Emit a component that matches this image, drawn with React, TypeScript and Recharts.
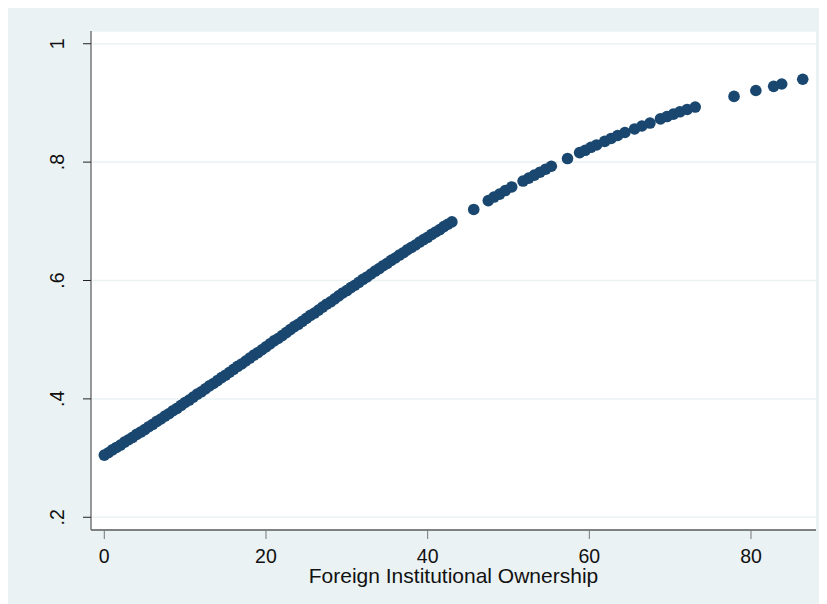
import { CartesianGrid, Scatter, ScatterChart, XAxis, YAxis } from "recharts";

// fitted probability against foreign institutional ownership
const denseOwnership = [
  0, 0.5, 1, 1.5, 2, 2.5, 3, 3.5, 4, 4.5, 5, 5.5, 6, 6.5, 7, 7.5, 8, 8.5, 9, 9.5,
  10, 10.5, 11, 11.5, 12, 12.5, 13, 13.5, 14, 14.5, 15, 15.5, 16, 16.5, 17, 17.5,
  18, 18.5, 19, 19.5, 20, 20.5, 21, 21.5, 22, 22.5, 23, 23.5, 24, 24.5, 25, 25.5,
  26, 26.5, 27, 27.5, 28, 28.5, 29, 29.5, 30, 30.5, 31, 31.5, 32, 32.5, 33, 33.5,
  34, 34.5, 35, 35.5, 36, 36.5, 37, 37.5, 38, 38.5, 39, 39.5, 40, 40.5, 41, 41.5,
  42, 42.5, 43,
];
const denseFitted = [
  0.305, 0.309, 0.314, 0.318, 0.322, 0.327, 0.331, 0.335, 0.34, 0.344, 0.348,
  0.353, 0.357, 0.362, 0.366, 0.371, 0.375, 0.38, 0.384, 0.389, 0.394, 0.398,
  0.403, 0.408, 0.412, 0.417, 0.422, 0.426, 0.431, 0.436, 0.44, 0.445, 0.45,
  0.455, 0.459, 0.464, 0.469, 0.474, 0.478, 0.483, 0.488, 0.493, 0.498, 0.502,
  0.507, 0.512, 0.517, 0.522, 0.526, 0.531, 0.536, 0.541, 0.545, 0.55, 0.555,
  0.56, 0.564, 0.569, 0.574, 0.579, 0.583, 0.588, 0.592, 0.597, 0.602, 0.606,
  0.611, 0.616, 0.62, 0.625, 0.629, 0.634, 0.638, 0.643, 0.647, 0.652, 0.656,
  0.66, 0.665, 0.669, 0.673, 0.678, 0.682, 0.686, 0.691, 0.695, 0.699,
];
const sparseOwnership = [
  45.7, 47.5, 48.2, 48.9, 49.6, 50.4, 51.8, 52.5, 53.2, 53.9, 54.6, 55.3, 57.3,
  58.8, 59.5, 60.2, 60.9, 61.9, 62.7, 63.5, 64.4, 65.6, 66.5, 67.5, 68.8, 69.6,
  70.4, 71.2, 72.1, 73.1, 77.9, 80.6, 82.8, 83.8, 86.4,
];
const sparseFitted = [
  0.72, 0.735, 0.741, 0.746, 0.752, 0.758, 0.768, 0.773, 0.778, 0.783, 0.788,
  0.793, 0.806, 0.816, 0.82, 0.825, 0.829, 0.835, 0.84, 0.845, 0.85, 0.856,
  0.861, 0.866, 0.873, 0.877, 0.881, 0.885, 0.889, 0.893, 0.911, 0.921, 0.928,
  0.932, 0.94,
];

const xTicks = [0, 20, 40, 60, 80];
const yTicks = [0.2, 0.4, 0.6, 0.8, 1];
const yTickLabels = [".2", ".4", ".6", ".8", "1"];

const points = [
  ...denseOwnership.map((x, i) => ({ x, y: denseFitted[i] })),
  ...sparseOwnership.map((x, i) => ({ x, y: sparseFitted[i] })),
];

const FONT = "'Liberation Sans', Arial, sans-serif";
const NAVY = "#1A476F";
const BLUISH = "#EAF2F3";

const Dot = (props: any) => <circle cx={props.cx} cy={props.cy} r={5.8} fill={NAVY} />;

const XTick = ({ x, y, payload }: any) => (
  <text x={x} y={y + 24} textAnchor="middle" fontSize={19.5} fill="#111" fontFamily={FONT}>
    {payload.value}
  </text>
);

const YTick = ({ x, y, payload }: any) => {
  const idx = yTicks.indexOf(payload.value);
  const lx = x - 19;
  return (
    <text
      x={lx}
      y={y}
      transform={`rotate(-90, ${lx}, ${y})`}
      textAnchor="middle"
      fontSize={19.5}
      fill="#111"
      fontFamily={FONT}
    >
      {idx >= 0 ? yTickLabels[idx] : payload.value}
    </text>
  );
};

export default function App() {
  return (
    <div style={{ width: 819, height: 596, background: BLUISH, fontFamily: FONT }}>
      <ScatterChart width={819} height={596} margin={{ top: 23, right: 11, bottom: 0, left: 0 }}>
        <CartesianGrid vertical={false} fill="#fff" stroke={BLUISH} strokeWidth={1.5} />
        <XAxis
          type="number"
          dataKey="x"
          domain={[-1.645, 88.04]}
          ticks={xTicks}
          allowDataOverflow
          height={74}
          tickSize={9}
          tickMargin={0}
          axisLine={{ stroke: "#111", strokeWidth: 1.2 }}
          tickLine={{ stroke: "#777" }}
          tick={<XTick />}
          label={{
            content: ({ viewBox }: any) => (
              <text
                x={viewBox.x + viewBox.width / 2}
                y={viewBox.y + 53}
                textAnchor="middle"
                fontSize={21}
                fill="#111"
                fontFamily={FONT}
              >
                Foreign Institutional Ownership
              </text>
            ),
          }}
        />
        <YAxis
          type="number"
          dataKey="y"
          domain={[0.1785, 1.0215]}
          ticks={yTicks}
          allowDataOverflow
          width={83}
          tickSize={8}
          tickMargin={0}
          axisLine={{ stroke: "#777", strokeWidth: 1.5 }}
          tickLine={{ stroke: "#222" }}
          tick={<YTick />}
        />
        <Scatter data={points} shape={<Dot />} isAnimationActive={false} />
      </ScatterChart>
    </div>
  );
}
